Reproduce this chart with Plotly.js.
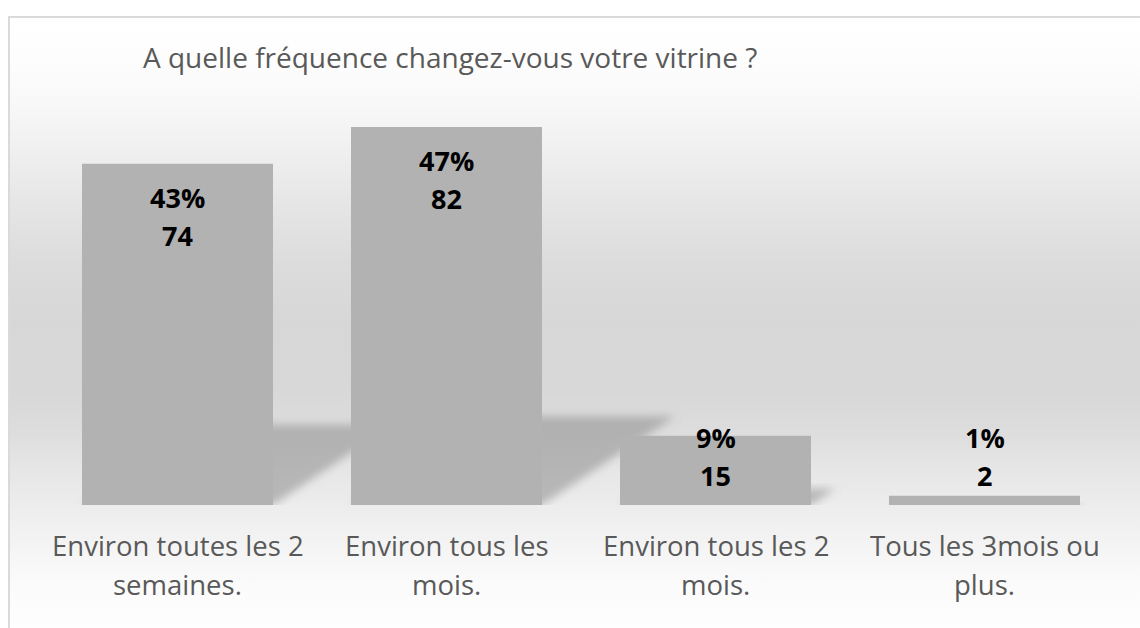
<!DOCTYPE html>
<html>
<head>
<meta charset="utf-8">
<script src="https://cdn.plot.ly/plotly-3.0.1.min.js"></script>
<style>
  html, body { margin:0; padding:0; background:#ffffff; overflow:hidden; width:1140px; height:628px; }
  #frame {
    position:absolute; left:8px; top:16px; width:1160px; height:640px;
    border-left:2px solid #dadada; border-top:2px solid #dadada;
    background: linear-gradient(to bottom,
      #ffffff 0px, #fdfdfd 44px, #f8f8f8 84px, #f3f3f3 114px, #e6e6e6 184px,
      #dcdcdc 244px, #d7d7d7 304px, #d8d8d8 374px, #dddddd 414px, #e6e6e6 451px,
      #f2f2f2 517px, #fbfbfb 567px, #fefefe 612px, #ffffff 640px);
  }
  #chart { position:absolute; left:0; top:0; width:1140px; height:628px; }
</style>
</head>
<body>
<div id="frame"></div>
<div id="chart"></div>
<script>
// ---- data ----
const labelLine1 = ["Environ toutes les 2", "Environ tous les", "Environ tous les 2", "Tous les 3mois ou"];
const labelLine2 = ["semaines.", "mois.", "mois.", "plus."];
const counts = [74, 82, 15, 2];
const percents = ["43%", "47%", "9%", "1%"];

// ---- style ----
const FONT = "Open Sans, Lato, sans-serif";
const BAR_W = 0.71;
const SHADOW_H = 0.235;      // shadow height as fraction of bar value
const SHADOW_SKEW = 0.00604; // horizontal skew (x units) per value unit
const LABEL_MIN = 22.1;      // lowest anchor for data labels (value units)

const xs = counts.map((_, i) => i);

const bars = {
  type: "bar",
  x: xs,
  y: counts,
  width: BAR_W,
  marker: { color: "#b2b2b2", line: { width: 0 } },
  hoverinfo: "skip",
  showlegend: false
};

const shapes = counts.map((v, i) => {
  const x0 = i - BAR_W / 2, x1 = i + BAR_W / 2;
  const hs = v * SHADOW_H, dx = v * SHADOW_SKEW;
  return {
    type: "path", xref: "x", yref: "y", layer: "below",
    path: `M ${x0},0 L ${x1},0 L ${x1 + dx},${hs} L ${x0 + dx},${hs} Z`,
    fillcolor: "rgba(140,140,140,0.55)", line: { width: 0 }
  };
});

const annotations = [];
counts.forEach((v, i) => {
  const base = Math.max(v, LABEL_MIN);
  annotations.push({
    x: i, y: base, xref: "x", yref: "y", yshift: -34, showarrow: false,
    text: percents[i], font: { family: FONT, size: 27, color: "#000000", weight: 700 }
  });
  annotations.push({
    x: i, y: base, xref: "x", yref: "y", yshift: -72, showarrow: false,
    text: String(v), font: { family: FONT, size: 27, color: "#000000", weight: 700 }
  });
  annotations.push({
    x: i, y: 0, xref: "x", yref: "y", yshift: -40, showarrow: false,
    text: labelLine1[i], font: { family: FONT, size: 27.5, color: "#595959" }
  });
  annotations.push({
    x: i, y: 0, xref: "x", yref: "y", yshift: -79, showarrow: false,
    text: labelLine2[i], font: { family: FONT, size: 27.5, color: "#595959" }
  });
});

const layout = {
  width: 1140, height: 628,
  margin: { l: 43, r: 21, t: 90, b: 123, pad: 0 },
  paper_bgcolor: "rgba(0,0,0,0)",
  plot_bgcolor: "rgba(0,0,0,0)",
  title: {
    text: "A quelle fréquence changez-vous votre vitrine ?",
    font: { family: FONT, size: 28, color: "#595959" },
    xref: "container", yref: "container",
    x: 143 / 1140, xanchor: "left",
    y: 1 - 58 / 628, yanchor: "middle"
  },
  xaxis: { range: [-0.5, 3.5], visible: false, fixedrange: true },
  yaxis: { range: [0, 90], visible: false, fixedrange: true },
  shapes: shapes,
  annotations: annotations,
  showlegend: false
};

function addBlur(gd) {
  const ns = "http://www.w3.org/2000/svg";
  const svg = gd.querySelector("svg.main-svg");
  if (!svg) return;
  if (!document.getElementById("shadowblur")) {
    let defs = svg.querySelector("defs");
    if (!defs) { defs = document.createElementNS(ns, "defs"); svg.insertBefore(defs, svg.firstChild); }
    const f = document.createElementNS(ns, "filter");
    f.setAttribute("id", "shadowblur");
    f.setAttribute("x", "-30%"); f.setAttribute("y", "-30%");
    f.setAttribute("width", "160%"); f.setAttribute("height", "160%");
    const b = document.createElementNS(ns, "feGaussianBlur");
    b.setAttribute("stdDeviation", "4");
    f.appendChild(b);
    defs.appendChild(f);
  }
  gd.querySelectorAll(".shapelayer path").forEach(p => {
    p.setAttribute("filter", "url(#shadowblur)");
    p.style.filter = "url(#shadowblur)";
  });
}

const gdEl = document.getElementById("chart");
Plotly.newPlot(gdEl, [bars], layout, { staticPlot: true, displayModeBar: false });
addBlur(gdEl);
Promise.resolve().then(() => addBlur(gdEl));
</script>
</body>
</html>
